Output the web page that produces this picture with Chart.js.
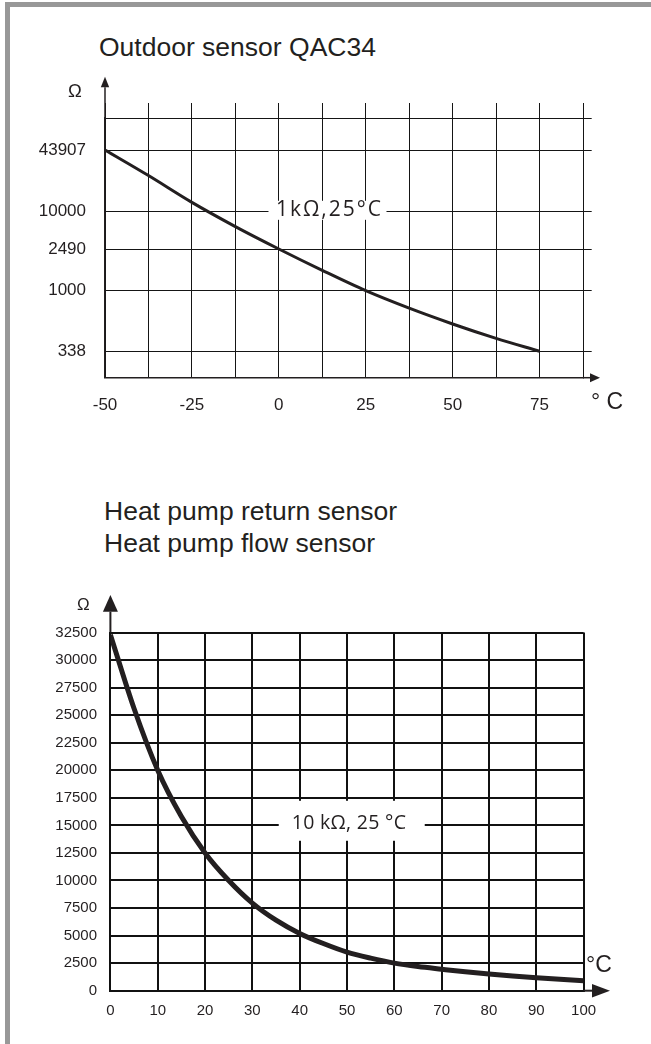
<!DOCTYPE html>
<html>
<head>
<meta charset="utf-8">
<script src="https://cdn.jsdelivr.net/npm/chart.js@4/dist/chart.umd.min.js"></script>
<style>
  html, body { margin: 0; padding: 0; background: #fff; }
  #page { position: relative; width: 651px; height: 1044px; overflow: hidden;
          font-family: "Liberation Sans", Arial, sans-serif; color: #231f20; }
  .frame-top { position: absolute; left: 5px; top: 2px; width: 646px; height: 5px; background: #989898; }
  .frame-left { position: absolute; left: 5px; top: 2px; width: 5px; height: 1042px; background: #989898; }
  .title { position: absolute; font-size: 26.5px; line-height: 26.5px; white-space: nowrap; }
  canvas { position: absolute; left: 0; }
</style>
</head>
<body>
<div id="page">
  <div class="frame-top"></div>
  <div class="frame-left"></div>
  <div class="title" style="left:99px; top:33.6px">Outdoor sensor QAC34</div>
  <div class="title" style="left:104px; top:497.6px">Heat pump return sensor</div>
  <div class="title" style="left:104px; top:530.3px">Heat pump flow sensor</div>
  <canvas id="outdoorChart" width="651" height="370" style="top:60px"></canvas>
  <canvas id="pumpChart" width="651" height="474" style="top:570px"></canvas>
</div>

<script>
// Outdoor sensor QAC34 (NTC, 1 kΩ at 25 °C)
const outdoorTemps = [-50, -37.5, -25, -12.5, 0, 12.5, 25, 37.5, 50, 62.5, 75];
const outdoorOhms = [43907, 23700, 12400, 5690, 2490, 1560, 1000, 731, 551, 426, 338];
const outdoorTempLabels = [-50, -25, 0, 25, 50, 75];
const outdoorOhmLabels = [338, 1000, 2490, 10000, 43907];

// Heat pump return / flow sensor (NTC, 10 kΩ at 25 °C)
const pumpTemps = [0, 5, 10, 15, 20, 25, 30, 35, 40, 45, 50, 55, 60, 65, 70, 75, 80, 85, 90, 95, 100];
const pumpOhms = [32300, 25600, 20000, 15800, 12500, 10000, 7950, 6400, 5200, 4280, 3500,
                  2950, 2500, 2190, 1950, 1720, 1520, 1340, 1180, 1040, 910];
const pumpTempLabels = [0, 10, 20, 30, 40, 50, 60, 70, 80, 90, 100];
const pumpOhmLabels = [0, 2500, 5000, 7500, 10000, 12500, 15000, 17500, 20000,
                       22500, 25000, 27500, 30000, 32500];

// The Ω axis of the outdoor chart is printed schematically: every labelled
// resistance has its own rung height (px above the °C axis) and the scale
// runs logarithmically between rungs.
const outdoorRungHeights = [26.4, 87, 128.7, 166.4, 227.7];
const outdoorAxisTop = 259.7;

const INK = '#231f20';
Chart.defaults.font.family = '"Liberation Sans", Arial, sans-serif';
Chart.defaults.color = INK;

class RungLogScale extends Chart.LinearScale {
  static id = 'runglog';
  static defaults = Chart.LinearScale.defaults;

  toHeight(v) {
    const vals = outdoorOhmLabels, hs = outdoorRungHeights;
    const lv = Math.log10(Math.max(v, 1e-6));
    let i = 0;
    while (i < vals.length - 2 && lv > Math.log10(vals[i + 1])) i++;
    const l0 = Math.log10(vals[i]), l1 = Math.log10(vals[i + 1]);
    return hs[i] + (lv - l0) / (l1 - l0) * (hs[i + 1] - hs[i]);
  }
  fromHeight(h) {
    const vals = outdoorOhmLabels, hs = outdoorRungHeights;
    let i = 0;
    while (i < hs.length - 2 && h > hs[i + 1]) i++;
    const l0 = Math.log10(vals[i]), l1 = Math.log10(vals[i + 1]);
    return Math.pow(10, l0 + (h - hs[i]) / (hs[i + 1] - hs[i]) * (l1 - l0));
  }
  getPixelForValue(v) {
    return super.getPixelForValue(this.toHeight(v));
  }
  getValueForPixel(p) {
    return this.fromHeight(super.getValueForPixel(p));
  }
}
Chart.register(RungLogScale);

// axis arrows, unit symbols and the rating note
function sketchParts(cfg) {
  return {
    id: 'sketchParts',
    afterDraw(chart) {
      const { ctx, chartArea: a, scales } = chart;
      ctx.save();
      ctx.strokeStyle = INK;
      ctx.fillStyle = INK;
      ctx.lineWidth = cfg.axisWidth;

      // y axis arrow
      const yTip = a.top - cfg.yArrow;
      ctx.beginPath();
      ctx.moveTo(a.left, a.top);
      ctx.lineTo(a.left, yTip + cfg.yHead[0]);
      ctx.stroke();
      ctx.beginPath();
      ctx.moveTo(a.left, yTip);
      ctx.lineTo(a.left - cfg.yHead[1], yTip + cfg.yHead[0]);
      ctx.lineTo(a.left + cfg.yHead[1], yTip + cfg.yHead[0]);
      ctx.closePath();
      ctx.fill();

      // x axis arrow
      const xTip = a.right + cfg.xArrow;
      ctx.beginPath();
      ctx.moveTo(a.right, a.bottom);
      ctx.lineTo(xTip - cfg.xHead[0], a.bottom);
      ctx.stroke();
      ctx.beginPath();
      ctx.moveTo(xTip, a.bottom);
      ctx.lineTo(xTip - cfg.xHead[0], a.bottom - cfg.xHead[1]);
      ctx.lineTo(xTip - cfg.xHead[0], a.bottom + cfg.xHead[1]);
      ctx.closePath();
      ctx.fill();

      // unit symbols
      ctx.textAlign = 'center';
      ctx.textBaseline = 'middle';
      ctx.font = cfg.ohm.font;
      ctx.fillText('Ω', a.left + cfg.ohm.dx, a.top + cfg.ohm.dy);
      ctx.font = cfg.deg.font;
      ctx.fillText(cfg.deg.text, a.right + cfg.deg.dx, a.bottom + cfg.deg.dy);

      // rating note on a white patch
      const n = cfg.note;
      const nx = scales.x.getPixelForValue(n.at[0]);
      const ny = scales.y.getPixelForValue(n.at[1]);
      ctx.fillStyle = '#fff';
      ctx.fillRect(nx - n.box[0] / 2, ny + n.boxDy - n.box[1] / 2, n.box[0], n.box[1]);
      ctx.fillStyle = INK;
      ctx.font = n.font;
      ctx.letterSpacing = n.spacing;
      ctx.fillText(n.text, nx + n.textDx, ny + n.textDy);
      ctx.restore();
    }
  };
}

const outdoorGrid = { color: '#151515', lineWidth: 1, drawTicks: false };
const outdoorBorder = { display: true, color: INK, width: 1.5 };
const rungTicks = (s) => {
  s.ticks = [...outdoorOhmLabels, s.fromHeight(s.max)].map((value) => ({ value }));
};

new Chart(document.getElementById('outdoorChart'), {
  type: 'line',
  data: {
    datasets: [{
      data: outdoorTemps.map((t, i) => ({ x: t, y: outdoorOhms[i] })),
      xAxisID: 'x',
      yAxisID: 'y',
      borderColor: INK,
      borderWidth: 3,
      pointRadius: 0,
      cubicInterpolationMode: 'monotone',
      fill: false
    }]
  },
  options: {
    responsive: false,
    animation: false,
    devicePixelRatio: 1,
    events: [],
    layout: { padding: { top: 43, right: 59.3, bottom: 12.3, left: 0 } },
    plugins: { legend: { display: false }, tooltip: { enabled: false } },
    scales: {
      x: {
        type: 'linear', position: 'bottom', min: -50, max: 87.5,
        grid: outdoorGrid, border: outdoorBorder,
        ticks: {
          stepSize: 12.5, autoSkip: false, maxRotation: 0, padding: 17,
          font: { size: 17 },
          callback: (v) => outdoorTempLabels.includes(v) ? String(v) : ''
        },
        afterFit: (s) => { s.height = 40; }
      },
      x2: {
        type: 'linear', position: 'top', min: -50, max: 87.5,
        grid: { color: '#151515', lineWidth: 1, drawOnChartArea: false, drawTicks: true, tickLength: 15 },
        border: { display: false },
        ticks: { stepSize: 12.5, display: false }
      },
      y: {
        type: 'runglog', position: 'left', min: 0, max: outdoorAxisTop, bounds: 'data',
        grid: outdoorGrid, border: outdoorBorder,
        afterBuildTicks: rungTicks,
        ticks: {
          autoSkip: false, padding: 19, font: { size: 17 },
          callback: (v) => outdoorOhmLabels.includes(v) ? String(v) : ''
        },
        afterFit: (s) => { s.width = 105; }
      },
      y2: {
        type: 'runglog', position: 'right', min: 0, max: outdoorAxisTop, bounds: 'data',
        grid: { color: '#151515', lineWidth: 1, drawOnChartArea: false, drawTicks: true, tickLength: 8.7 },
        border: { display: false },
        afterBuildTicks: rungTicks,
        ticks: { display: false }
      }
    }
  },
  plugins: [sketchParts({
    axisWidth: 1.5,
    yArrow: 41.3, yHead: [10.6, 4.2],
    xArrow: 17, xHead: [10, 4.5],
    ohm: { font: '18.5px "Liberation Sans"', dx: -30, dy: -26.3 },
    deg: { text: '° C', font: '23px "Liberation Sans"', dx: 24, dy: 25.3 },
    note: {
      text: '1kΩ,25°C', at: [14, 10000], font: '21px "Open Sans"', spacing: '2px',
      box: [118, 19], boxDy: -1, textDx: 2, textDy: -1
    }
  })]
});

const pumpGrid = { color: '#111', lineWidth: 2, drawTicks: false };
const pumpBorder = { display: true, color: '#111', width: 2 };

new Chart(document.getElementById('pumpChart'), {
  type: 'line',
  data: {
    datasets: [{
      data: pumpTemps.map((t, i) => ({ x: t, y: pumpOhms[i] })),
      borderColor: INK,
      borderWidth: 5,
      pointRadius: 0,
      cubicInterpolationMode: 'monotone',
      fill: false
    }]
  },
  options: {
    responsive: false,
    animation: false,
    devicePixelRatio: 1,
    events: [],
    layout: { padding: { top: 62.5, right: 67.4, bottom: 13.3, left: 0 } },
    plugins: { legend: { display: false }, tooltip: { enabled: false } },
    scales: {
      x: {
        type: 'linear', min: 0, max: 100,
        grid: pumpGrid, border: pumpBorder,
        afterBuildTicks: (s) => { s.ticks = pumpTempLabels.map((value) => ({ value })); },
        ticks: { autoSkip: false, maxRotation: 0, padding: 11.3, font: { size: 15 }, callback: (v) => String(v) },
        afterFit: (s) => { s.height = 40; }
      },
      y: {
        type: 'linear', min: 0, max: 32500,
        grid: pumpGrid, border: pumpBorder,
        afterBuildTicks: (s) => { s.ticks = pumpOhmLabels.map((value) => ({ value })); },
        ticks: { autoSkip: false, padding: 13.4, font: { size: 15 }, callback: (v) => String(v) },
        afterFit: (s) => { s.width = 110.4; }
      }
    }
  },
  plugins: [sketchParts({
    axisWidth: 2,
    yArrow: 37.5, yHead: [16.7, 7.5],
    xArrow: 26.4, xHead: [18, 6.7],
    ohm: { font: '17px "Liberation Sans"', dx: -27.1, dy: -27.5 },
    deg: { text: '°C', font: '23px "Liberation Sans"', dx: 15.4, dy: -24.7 },
    note: {
      text: '10 kΩ, 25 °C', at: [51, 15000], font: '19.5px "Open Sans"', spacing: '0.3px',
      box: [146, 40], boxDy: -4.6, textDx: -2.7, textDy: -2.3
    }
  })]
});
</script>
</body>
</html>
